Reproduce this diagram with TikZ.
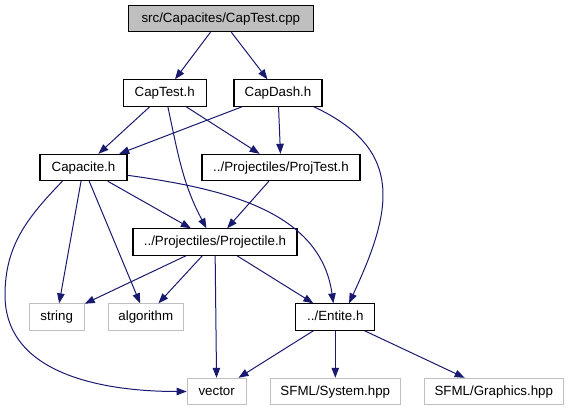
\documentclass[tikz,border=0pt]{standalone}
\usepackage{fontspec}
\setmainfont{Liberation Sans}
\usetikzlibrary{arrows.meta}
\definecolor{edgeblue}{RGB}{25,25,112}
\definecolor{sysgray}{RGB}{191,191,191}

\begin{document}
\begin{tikzpicture}[
  x=0.75pt, y=-0.75pt,
  box/.style={draw=black, line width=0.8pt, minimum height=19.75pt, inner sep=0pt, font=\fontsize{10}{12}\selectfont, text height=7.3pt, text depth=2pt},
  sysbox/.style={box, draw=sysgray},
  edge/.style={->, draw=edgeblue, line width=0.75pt},
  >={Triangle[length=7.5pt,width=5.6pt]}
]
\useasboundingbox (0,0) rectangle (569,411);

% project files
\node[box, fill=sysgray, minimum width=138.75pt] (cpp) at (220.8,18.5) {src/Capacites/CapTest.cpp};
\node[box, minimum width=62.25pt] (captest) at (164.7,93) {CapTest.h};
\node[box, minimum width=66pt] (capdash) at (278,93) {CapDash.h};
\node[box, minimum width=65.25pt] (capacite) at (83.5,167.5) {Capacite.h};
\node[box, minimum width=118.5pt] (projtest) at (281,167.5) {../Projectiles/ProjTest.h};
\node[box, minimum width=123pt] (projectile) at (215,242) {../Projectiles/Projectile.h};
\node[box, minimum width=59.25pt] (entite) at (335.3,317) {../Entite.h};

% system headers
\node[sysbox, minimum width=41.25pt] (string) at (56.7,317) {string};
\node[sysbox, minimum width=56.25pt] (algorithm) at (145.8,317) {algorithm};
\node[sysbox, minimum width=44.25pt] (vector) at (216.7,391.5) {vector};
\node[sysbox, minimum width=97.5pt] (system) at (335.3,391.5) {SFML/System.hpp};
\node[sysbox, minimum width=104.25pt] (graphics) at (493.8,391.5) {SFML/Graphics.hpp};

\foreach \a/\b in {cpp/captest,cpp/capdash,captest/capacite,captest/projtest,capdash/capacite,capdash/projtest,capacite/projectile,capacite/string,capacite/algorithm,projtest/projectile,projectile/string,projectile/algorithm,projectile/vector,projectile/entite,entite/vector,entite/system,entite/graphics}
  \draw[edge] (\a) -- (\b);

% curved edges
\draw[edge] (captest.-77) to[out=-78,in=118] (projectile.122);
\draw[edge] (capdash.-21) to[out=-25,in=65,looseness=1.3] (entite.45);
\draw[edge] (capacite.-10) to[out=-8,in=98] (entite.98);
\draw[edge] (capacite.-147) to[out=-134,in=90] (5,295) to[out=-90,in=180] (vector.west);
\end{tikzpicture}
\end{document}
